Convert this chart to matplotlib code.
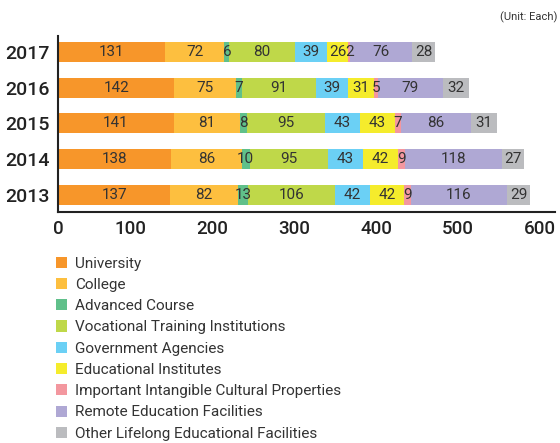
import matplotlib
matplotlib.use("Agg")
import matplotlib.pyplot as plt
import matplotlib.transforms as mtransforms
import numpy as np

plt.rcParams["font.family"] = ["Roboto", "DejaVu Sans"]

years = ["2013", "2014", "2015", "2016", "2017"]
categories = [
    "University",
    "College",
    "Advanced Course",
    "Vocational Training Institutions",
    "Government Agencies",
    "Educational Institutes",
    "Important Intangible Cultural Properties",
    "Remote Education Facilities",
    "Other Lifelong Educational Facilities",
]
# values per category, in year order 2013..2017
university = [137, 138, 141, 142, 131]
college = [82, 86, 81, 75, 72]
advanced = [13, 10, 8, 7, 6]
vocational = [106, 95, 95, 91, 80]
government = [42, 43, 43, 39, 39]
educational = [42, 42, 43, 31, 26]
intangible = [9, 9, 7, 5, 2]
remote = [116, 118, 86, 79, 76]
other = [29, 27, 31, 32, 28]

series = [university, college, advanced, vocational, government,
          educational, intangible, remote, other]
colors = ["#F7962A", "#FDBF3F", "#60C08A", "#BFD849", "#6BD0F5",
          "#F5EC2C", "#F3979F", "#AFA8D4", "#BBBCBF"]

fig = plt.figure(figsize=(5.6, 4.43), dpi=100)
ax = fig.add_axes([58 / 560, 1 - 212 / 443, (555 - 58) / 560, (212 - 36) / 443])

y = np.arange(len(years))
left = np.zeros(len(years))
handles = []
for vals, col, name in zip(series, colors, categories):
    vals = np.array(vals, dtype=float)
    bars = ax.barh(y, vals, left=left, height=0.56, color=col, label=name)
    handles.append(bars)
    for yi, (l, v) in enumerate(zip(left, vals)):
        ax.text(l + v / 2, yi, f"{int(v)}", ha="center", va="center",
                fontsize=11, color="#333333")
    left += vals

ax.set_xlim(0, 606)
ax.set_ylim(-0.48, 4.45)
ax.set_yticks(y)
ax.set_yticklabels(years, fontsize=14, fontweight="medium", color="#222222")
ax.set_xticks(np.arange(0, 601, 100))
ax.tick_params(axis="x", labelsize=13.5, length=0, pad=6, labelcolor="#222222")
ax.tick_params(axis="y", length=0, pad=6)
shift = mtransforms.ScaledTranslation(-10 / 100, 0, fig.dpi_scale_trans)
for i, lbl in enumerate(ax.get_xticklabels()):
    lbl.set_fontweight("medium")
    if i > 0:
        lbl.set_transform(lbl.get_transform() + shift)
for s in ["top", "right"]:
    ax.spines[s].set_visible(False)
for s in ["left", "bottom"]:
    ax.spines[s].set_color("#222222")
    ax.spines[s].set_linewidth(1.5)

fig.text(0.995, 1 - 17 / 443, "(Unit: Each)", ha="right", va="center",
         fontsize=8, color="#333333")

fig.legend(handles=handles, labels=categories, loc="upper left",
           bbox_to_anchor=(48 / 560, 1 - 249 / 443), frameon=False,
           fontsize=11, handlelength=0.75, handleheight=0.75,
           handletextpad=0.5, labelspacing=0.475, borderpad=0,
           labelcolor="#333333")

fig.savefig("out.png", dpi=100)
